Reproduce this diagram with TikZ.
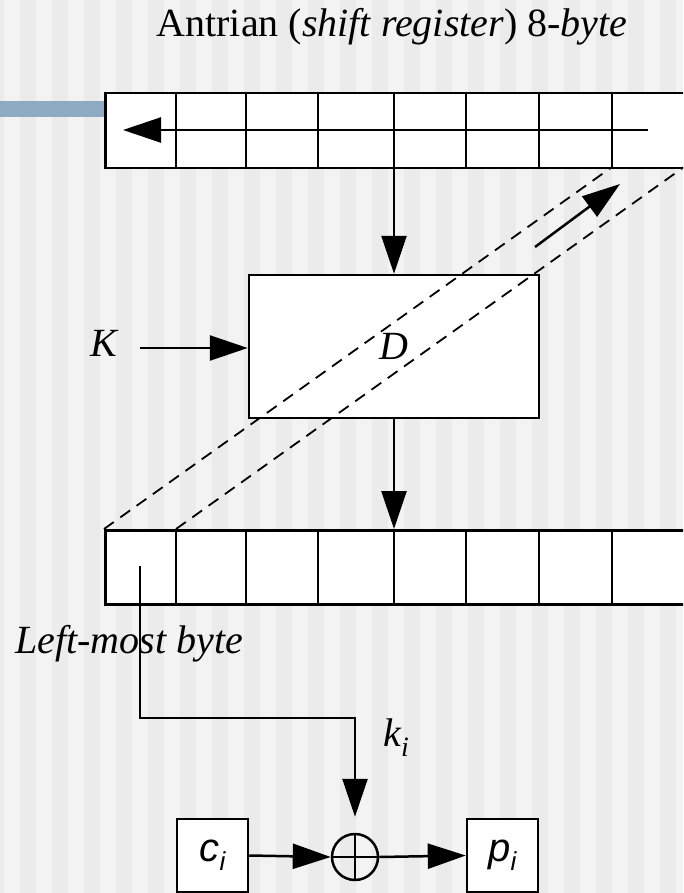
\documentclass[tikz,border=0pt]{standalone}
\usepackage{fontspec}
\setmainfont{Liberation Serif}
\newfontfamily\sansf{Liberation Sans}
\usetikzlibrary{arrows.meta}
\definecolor{bgA}{HTML}{F3F3F3}
\definecolor{bgB}{HTML}{EBEBEB}
\definecolor{barblue}{HTML}{8FAAC3}
\begin{document}
\begin{tikzpicture}[x=1pt,y=-1pt, line width=2.5pt,
  arr/.style={-{Triangle[length=38pt,width=25pt]}},
  regbox/.style={draw, fill=white, minimum width=583pt, minimum height=75pt, anchor=north west, inner sep=0pt},
  smallbox/.style={draw, fill=white, minimum width=71pt, minimum height=73pt, inner sep=0pt, font=\sansf\itshape\fontsize{40}{40}\selectfont},
  dashline/.style={dash pattern=on 12pt off 8pt, line width=1.8pt},
  serif40/.style={font=\fontsize{40}{44}\selectfont},
  ital40/.style={font=\itshape\fontsize{40}{44}\selectfont}]
\useasboundingbox (0,0) rectangle (683,893);
\clip (0,0) rectangle (683,893);
% background stripes
\fill[bgA] (0,0) rectangle (683,893);
\foreach \i in {-1,...,21} \fill[bgB] ({20+32*\i},0) rectangle ({36+32*\i},893);
% blue bar
\fill[barblue] (0,101) rectangle (104,117);
% title
\node[serif40, anchor=base] (title) at (392,37) {Antrian (\textit{shift register}) 8-\textit{byte}};
% top register
\node[regbox] (topreg) at (104,92) {};
\foreach \x in {176,246,318,394,466,539,612} \draw (\x,92) -- (\x,167);
\coordinate (sfrom) at (648,130);
\coordinate (sto) at (123,130);
\draw[arr] (sfrom) -- (sto);
% D box
\node[draw, fill=white, minimum width=290pt, minimum height=143pt, inner sep=0pt, ital40] (D) at (394,346.5) {D};
\coordinate (topout) at (394,167);
\draw[arr] (topout) -- (D.north);
% K
\node[ital40, anchor=base] (K) at (104,356) {K};
\coordinate (kin) at (140,348);
\draw[arr] (kin) -- (kin -| D.west);
% lower register
\node[regbox, minimum height=74pt] (lowreg) at (104,529) {};
\foreach \x in {176,246,318,394,466,539,612} \draw (\x,529) -- (\x,603);
\coordinate (lowin) at (394,529);
\draw[arr] (D.south) -- (lowin);
% dashed lines
\coordinate (d1a) at (104,529);
\coordinate (d1b) at (612,167);
\coordinate (d2a) at (176,529);
\coordinate (d2b) at (684,167);
\draw[dashline] (d1a) -- (d1b);
\draw[dashline] (d2a) -- (d2b);
% diagonal arrow
\coordinate (ga) at (535,247);
\coordinate (gb) at (620,184);
\draw[arr] (ga) -- (gb);
% left-most byte
\node[ital40, anchor=base west, inner sep=0pt] (lmb) at (14,653) {Left-most byte};
% xor and boxes
\node[draw, circle, minimum size=46pt, inner sep=0pt] (xor) at (355,857) {};
\draw (xor.north) -- (xor.south) (xor.west) -- (xor.east);
\node[smallbox] (c) at (212.5,855.5) {c\raisebox{-9pt}{\fontsize{26}{26}\selectfont i}};
\node[smallbox] (p) at (502.5,855.5) {p\raisebox{-9pt}{\fontsize{26}{26}\selectfont i}};
\draw[arr] (c.east) -- (xor.west);
\draw[arr] (xor.east) -- (p.west);
\coordinate (lb) at (140,566);
\coordinate (lcorner) at (140,718);
\draw[arr, shorten >=16pt] (lb) -- (lcorner) -- (lcorner -| xor.north) -- (xor.north);
\node[ital40, anchor=base west, inner sep=0pt] (ki) at (382,746) {k\raisebox{-10pt}{\fontsize{28}{28}\selectfont i}};
\end{tikzpicture}
\end{document}
